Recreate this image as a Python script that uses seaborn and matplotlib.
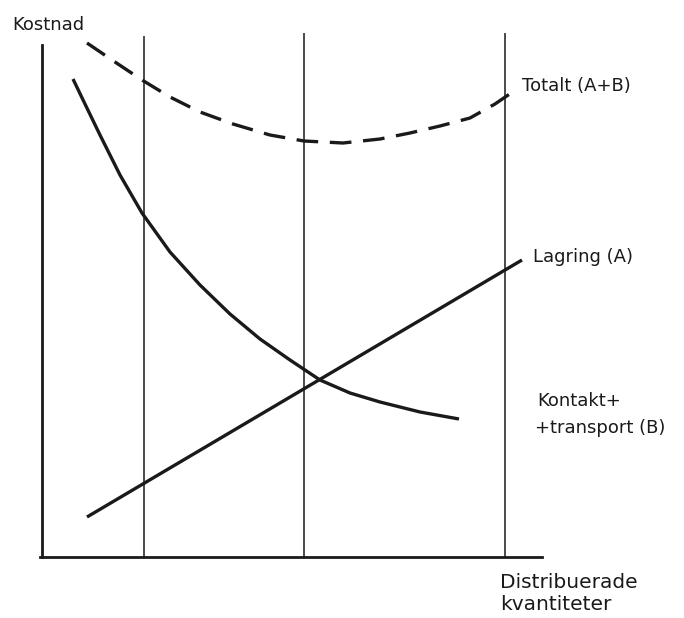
import matplotlib
matplotlib.use("Agg")
import matplotlib.pyplot as plt
import seaborn as sns
import pandas as pd

# curve data (quantity, cost) in arbitrary units
total_q = [9, 14.6, 20, 25.6, 31.6, 38.2, 45.6, 52.4, 60.2, 67.6, 73.6, 79.6, 85.6, 90.6, 95]
total_c = [102.8, 99, 95.4, 92, 89, 86.6, 84.4, 83.2, 82.8, 83.6, 84.8, 86.2, 87.8, 90.6, 93.6]

kontakt_q = [6.2, 8.6, 11.6, 15.6, 20, 25.6, 31.6, 37.6, 43.6, 49.6, 55.6, 61.6, 67.6, 75.6, 83.4]
kontakt_c = [95.6, 90.6, 84.4, 76.4, 68.8, 61, 54.4, 48.6, 43.6, 39.4, 35.4, 32.8, 31, 29, 27.6]

lagring_q = [9, 96]
lagring_c = [8, 59.4]

# vertical reference lines
ref_q = [20.4, 52.4, 92.6]
ref_top = [104.2, 104.8, 104.8]

sns.set_style("white")
plt.rcParams['font.family'] = ['DejaVu Sans']

fig = plt.figure(figsize=(6.84, 6.18), dpi=100)
ax = fig.add_axes([0, 0, 1, 1])
ax.set_xlim(-8.4, 128.4)
ax.set_ylim(-12.2, 111.4)

ink = "#1a1a1a"

# axes as spines
for s in ["top", "right"]:
    ax.spines[s].set_visible(False)
ax.spines["left"].set_position(("data", 0))
ax.spines["bottom"].set_position(("data", 0))
ax.spines["left"].set_bounds(0, 102.4)
ax.spines["bottom"].set_bounds(-0.4, 100)
for s in ["left", "bottom"]:
    ax.spines[s].set_linewidth(2.0)
    ax.spines[s].set_color(ink)
ax.set_xticks([])
ax.set_yticks([])

ax.vlines(ref_q, 0, ref_top, color=ink, linewidth=1.1)

total = pd.DataFrame({"q": total_q, "c": total_c})
kontakt = pd.DataFrame({"q": kontakt_q, "c": kontakt_c})
lagring = pd.DataFrame({"q": lagring_q, "c": lagring_c})

sns.lineplot(data=total, x="q", y="c", ax=ax, color=ink, linewidth=2.4, sort=False)
ax.lines[-1].set_dashes([6.5, 3.5])
sns.lineplot(data=kontakt, x="q", y="c", ax=ax, color=ink, linewidth=2.4, sort=False)
sns.lineplot(data=lagring, x="q", y="c", ax=ax, color=ink, linewidth=2.4, sort=False)
for ln in ax.lines:
    ln.set_solid_capstyle("butt")
    ln.set_solid_joinstyle("round")
ax.set_xlabel("")
ax.set_ylabel("")

fs = 13
ax.text(-6, 106.4, "Kostnad", fontsize=fs, va="center", ha="left", color=ink)
ax.text(96, 94.2, "Totalt (A+B)", fontsize=fs, va="center", ha="left", color=ink)
ax.text(98.2, 60, "Lagring (A)", fontsize=fs, va="center", ha="left", color=ink)
ax.text(99, 31.2, "Kontakt+", fontsize=fs, va="center", ha="left", color=ink)
ax.text(98.6, 25.8, "+transport (B)", fontsize=fs, va="center", ha="left", color=ink)
ax.text(91.6, -5.2, "Distribuerade", fontsize=fs + 1.5, va="center", ha="left", color=ink)
ax.text(91.6, -9.6, "kvantiteter", fontsize=fs + 1.5, va="center", ha="left", color=ink)

fig.savefig("out.png", dpi=100)
